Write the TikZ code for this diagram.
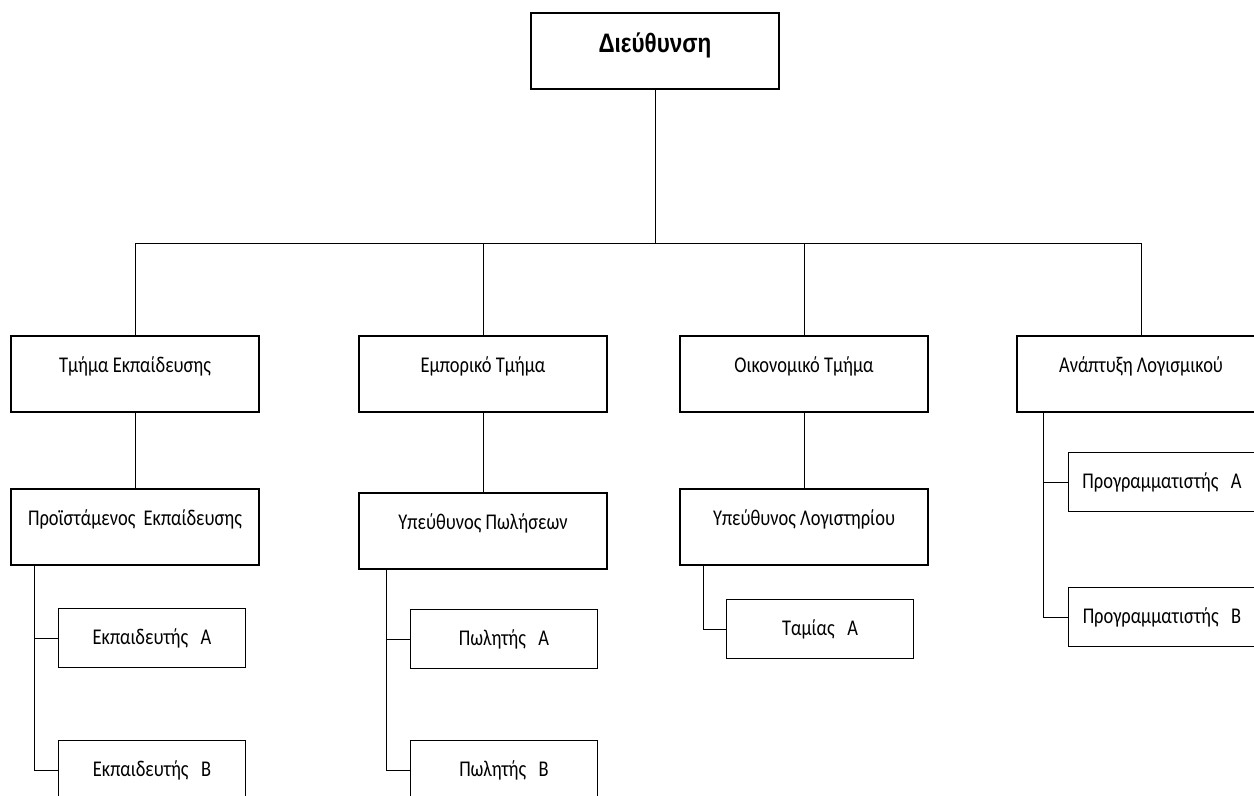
\documentclass[tikz,border=0pt]{standalone}
\usepackage{fontspec}
\setmainfont{Carlito}
\newfontfamily\boxfont[FakeStretch=0.82]{Carlito}
\newfontfamily\headfont[FakeStretch=0.84]{Liberation Sans}
\usetikzlibrary{positioning,calc}
\tikzset{
  boss/.style={
    rectangle, draw, line width=0.9pt,
    minimum width=6.2cm, minimum height=1.9cm,
    text height=0.45cm, text depth=0.35cm,
    font=\headfont\bfseries\fontsize{19}{22}\selectfont
  },
  dept/.style={
    rectangle, draw, line width=0.9pt,
    minimum width=6.2cm, minimum height=1.9cm,
    text height=0.35cm, text depth=0.45cm,
    font=\boxfont\fontsize{16}{19}\selectfont
  },
  staff/.style={
    rectangle, draw, line width=0.9pt,
    minimum width=4.675cm, minimum height=1.475cm,
    text height=0.5cm, text depth=0.175cm,
    font=\boxfont\fontsize{16}{19}\selectfont
  },
  conn/.style={line width=0.6pt}
}

\begin{document}
\begin{tikzpicture}[x=0.025cm,y=-0.025cm]
\useasboundingbox (0,0) rectangle (1254,795);
\clip (0,0) rectangle (1254,795);
% top
\node[boss] (dir) at (655,51) {Διεύθυνση};
\coordinate (bar) at (0,243);
% departments
\node[dept] (edu) at (135,374) {Τμήμα Εκπαίδευσης};
\node[dept] (sales) at (483,374) {Εμπορικό Τμήμα};
\node[dept] (fin) at (804,374) {Οικονομικό Τμήμα};
\node[dept] (dev) at (1141,374) {Ανάπτυξη Λογισμικού};
\draw[conn] (dir.south) -- (dir.south |- bar) -| (edu.north);
\draw[conn] (dir.south |- bar) -| (sales.north);
\draw[conn] (dir.south |- bar) -| (fin.north);
\draw[conn] (dir.south |- bar) -| (dev.north);
% heads
\node[dept] (eduhead) at (135,527) {Προϊστάμενος\ \ Εκπαίδευσης};
\node[dept] (saleshead) at (483,531) {Υπεύθυνος Πωλήσεων};
\node[dept] (finhead) at (804,527) {Υπεύθυνος Λογιστηρίου};
\draw[conn] (edu.south) -- (eduhead.north);
\draw[conn] (sales.south) -- (saleshead.north);
\draw[conn] (fin.south) -- (finhead.north);
% staff
\node[staff] (trainA) at (152,638) {Εκπαιδευτής\ \ \ Α};
\node[staff] (trainB) at (152,770) {Εκπαιδευτής\ \ \ Β};
\node[staff] (sellA) at (504,639) {Πωλητής\ \ \ Α};
\node[staff] (sellB) at (504,770) {Πωλητής\ \ \ Β};
\node[staff] (cashier) at (820,629) {Ταμίας\ \ \ Α};
\node[staff] (progA) at (1162,482) {Προγραμματιστής\ \ \ Α};
\node[staff] (progB) at (1162,617) {Προγραμματιστής\ \ \ Β};
\coordinate (edubr) at (34,565);
\coordinate (salesbr) at (386,569);
\coordinate (finbr) at (703,565);
\coordinate (devbr) at (1043,412);
\draw[conn] (edubr) |- (trainA.west);
\draw[conn] (edubr) |- (trainB.west);
\draw[conn] (salesbr) |- (sellA.west);
\draw[conn] (salesbr) |- (sellB.west);
\draw[conn] (finbr) |- (cashier.west);
\draw[conn] (devbr) |- (progA.west);
\draw[conn] (devbr) |- (progB.west);
\end{tikzpicture}
\end{document}
